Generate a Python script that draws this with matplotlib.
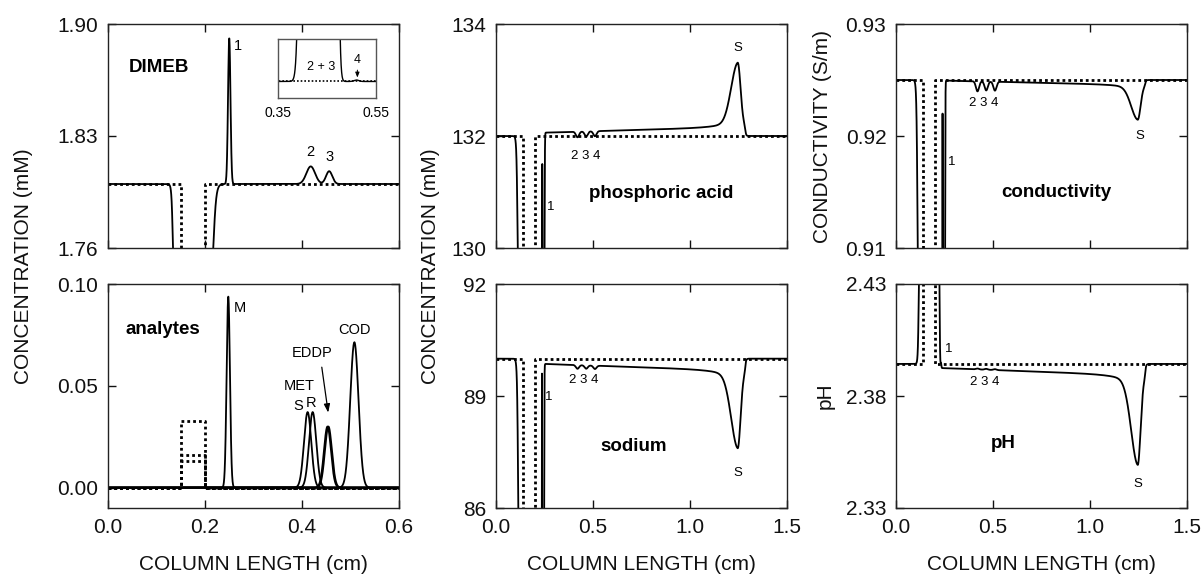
import numpy as np
import matplotlib
matplotlib.use("Agg")
import matplotlib.pyplot as plt

plt.rcParams['font.family'] = ['Liberation Sans', 'DejaVu Sans']
plt.rcParams['axes.linewidth'] = 1.0

# ---------------------------------------------------------------- data
# DIMEB (left top): baseline, sample-zone dip and complex peaks
dimeb_level = 1.80
dimeb_zone = (0.134, 0.003, 0.217, 0.006, 0.08)          # a, wa, b, wb, depth
dimeb_peak_pos = [0.250, 0.418, 0.456, 0.510]
dimeb_peak_height = [0.091, 0.011, 0.008, 0.0000015]
dimeb_peak_sigma = [0.0025, 0.009, 0.0065, 0.005]
dimeb_plug = (0.15, 0.20)
dimeb_plug_level = 0.0

# analytes (left bottom)
analyte_names = ['M', 'S-MET', 'R-MET', 'EDDP-1', 'EDDP-2', 'COD']
analyte_pos = [0.248, 0.4116, 0.422, 0.4525, 0.4545, 0.508]
analyte_height = [0.0938, 0.0371, 0.0371, 0.0300, 0.0300, 0.0714]
analyte_sigma = [0.0034, 0.0075, 0.0075, 0.0072, 0.0072, 0.0085]
analyte_initial = [0.0158, 0.0132, 0.0132, 0.0132, 0.0132, 0.0328]
analyte_plug = (0.15, 0.20)

# buffer / electrolyte profiles (middle and right)
plug_mr = (0.14, 0.20)
wiggle_pos = [0.42, 0.465, 0.51]
wiggle_sigma = 0.008
s_pos, s_sigma_left, s_sigma_right = 1.246, 0.034, 0.0146
s_tail_frac, s_tail_len = 0.12, 0.08
plateau_end = (1.285, 0.004)

phos = dict(level=132.0, zone=(0.112, 0.006, 0.2505, 0.0015, 4.0),
            spike=(0.2385, 3.5, 0.0007), plateau=(0.06, 0.10),
            wiggle=[-0.10, -0.09, -0.09], s_amp=1.15, plug_level=0.0)
sodium = dict(level=90.0, zone=(0.115, 0.006, 0.248, 0.0015, 8.0),
              spike=(0.237, 7.6, 0.0007), plateau=(-0.14, -0.18),
              wiggle=[-0.10, -0.09, -0.09], s_amp=-2.08, plug_level=0.0)
cond = dict(level=0.925, zone=(0.112, 0.006, 0.253, 0.0015, 0.03),
            spike=(0.240, 0.027, 0.0007), plateau=(-0.00005, -0.0004),
            wiggle=[-0.0009, -0.0008, -0.0008], s_amp=-0.0031, plug_level=0.0)
ph = dict(level=2.3943, zone=(0.118, 0.005, 0.224, 0.003, -0.07),
          spike=(0.232, 0.002, 0.0018), plateau=(-0.0018, -0.0032),
          wiggle=[0.0004, 0.0004, 0.0004], s_amp=-0.040, plug_level=7.0)

# ---------------------------------------------------------------- helpers
def edge(x, c, w):
    return 0.5 * (1.0 + np.tanh((x - c) / w))


def gauss(x, c, h, s):
    return h * np.exp(-0.5 * ((x - c) / s) ** 2)


def system_peak(x, c, h, sl, sr, frac, tail):
    d = x - c
    left = (1.0 - frac) * np.exp(-0.5 * (d / sl) ** 2) + frac * np.exp(np.minimum(d, 0.0) / tail)
    right = np.exp(-0.5 * (d / sr) ** 2)
    return h * np.where(d < 0, left, right)


def zone_profile(x, zone):
    a, wa, b, wb, depth = zone
    return depth * edge(x, a, wa) * (1.0 - edge(x, b, wb))


def electrolyte_profile(x, p):
    a, wa, b, wb, depth = p['zone']
    y = p['level'] - zone_profile(x, p['zone'])
    y = y + gauss(x, *p['spike'])
    p0, slope = p['plateau']
    y = y + (p0 + slope * (x - b)) * edge(x, b, wb) * (1.0 - edge(x, *plateau_end))
    for c, amp in zip(wiggle_pos, p['wiggle']):
        y = y + gauss(x, c, amp, wiggle_sigma)
    y = y + system_peak(x, s_pos, p['s_amp'], s_sigma_left, s_sigma_right,
                        s_tail_frac, s_tail_len)
    return y


def plug_line(level, sample, plug, xmax):
    xs = [0.0, plug[0], plug[0], plug[1], plug[1], xmax]
    ys = [level, level, sample, sample, level, level]
    return xs, ys


FIG_W, FIG_H = 1204, 582
fig = plt.figure(figsize=(FIG_W / 100, FIG_H / 100), dpi=100)


def px_axes(x0, y0, x1, y1):
    return fig.add_axes([x0 / FIG_W, 1 - y1 / FIG_H, (x1 - x0) / FIG_W, (y1 - y0) / FIG_H])


def style(ax, xlim, ylim, xticks, yticks, xlabels, ylabels):
    ax.set_xlim(xlim)
    ax.set_ylim(ylim)
    ax.set_xticks(xticks)
    ax.set_yticks(yticks)
    ax.set_yticklabels(ylabels)
    if xlabels is None:
        ax.tick_params(labelbottom=False)
    else:
        ax.set_xticklabels(xlabels)
    ax.tick_params(direction='in', top=True, right=True, length=6, width=1,
                   labelsize=15, pad=7, colors='#111111')
    for s in ax.spines.values():
        s.set_color('#222222')


SOLID = dict(color='black', lw=1.3, solid_joinstyle='round')
DOT = dict(color='black', lw=2.0, linestyle=(0, (1.0, 1.1)))

x_left = np.linspace(0.0, 0.6, 12001)
x_mr = np.linspace(0.0, 1.5, 30001)

top_y = (24, 248)
bot_y = (284, 508)
cols = [(108, 399), (496, 787), (896, 1187)]

# ---------------------------------------------------------------- DIMEB
ax = px_axes(cols[0][0], top_y[0], cols[0][1], top_y[1])
dimeb = dimeb_level - zone_profile(x_left, dimeb_zone)
for c, h, s in zip(dimeb_peak_pos, dimeb_peak_height, dimeb_peak_sigma):
    dimeb = dimeb + gauss(x_left, c, h, s)
ax.plot(*plug_line(dimeb_level, dimeb_plug_level, dimeb_plug, 0.6), **DOT)
ax.plot(x_left, dimeb, **SOLID)
style(ax, (0, 0.6), (1.76, 1.90), [0, 0.2, 0.4, 0.6], [1.76, 1.83, 1.90],
      None, ['1.76', '1.83', '1.90'])
ax.text(0.105, 1.873, 'DIMEB', fontsize=13.5, fontweight='bold', ha='center', va='center')
ax.text(0.268, 1.886, '1', fontsize=10.5, ha='center', va='center')
ax.text(0.4165, 1.820, '2', fontsize=10.5, ha='center', va='center')
ax.text(0.456, 1.817, '3', fontsize=10.5, ha='center', va='center')

# inset zoom on complexes 2-4
span = 6e-5
axi = px_axes(278, 39, 376, 98)
axi.plot(*plug_line(dimeb_level, dimeb_plug_level, dimeb_plug, 0.6), color='black',
         lw=1.2, linestyle=(0, (1.0, 1.2)))
axi.plot(x_left, dimeb, color='black', lw=1.0)
axi.set_xlim(0.35, 0.55)
axi.set_ylim(dimeb_level - 0.28 * span, dimeb_level + 0.72 * span)
axi.set_yticks([])
axi.set_xticks([0.35, 0.55])
axi.set_xticklabels(['0.35', '0.55'])
axi.tick_params(length=0, labelsize=10, pad=6)
for s in axi.spines.values():
    s.set_color('#555555')
    s.set_linewidth(1.0)
axi.text(0.437, dimeb_level + 0.25 * span, '2 + 3', fontsize=9, ha='center', va='center')
axi.text(0.512, dimeb_level + 0.36 * span, '4', fontsize=9, ha='center', va='center')
axi.annotate('', xy=(0.512, dimeb_level + 0.02 * span),
             xytext=(0.512, dimeb_level + 0.24 * span),
             arrowprops=dict(arrowstyle='-|>,head_length=0.3,head_width=0.12',
                             color='black', lw=0.7))

# ---------------------------------------------------------------- analytes
ax = px_axes(cols[0][0], bot_y[0], cols[0][1], bot_y[1])
for h0 in sorted(set(analyte_initial)):
    ax.plot(*plug_line(0.0, h0, analyte_plug, 0.6), **DOT)
for c, h, s in zip(analyte_pos, analyte_height, analyte_sigma):
    ax.plot(x_left, gauss(x_left, c, h, s), **SOLID)
style(ax, (0, 0.6), (-0.01, 0.10), [0, 0.2, 0.4, 0.6], [0.0, 0.05, 0.10],
      ['0.0', '0.2', '0.4', '0.6'], ['0.00', '0.05', '0.10'])
ax.text(0.114, 0.0775, 'analytes', fontsize=13.5, fontweight='bold', ha='center', va='center')
ax.text(0.272, 0.088, 'M', fontsize=10.5, ha='center', va='center')
ax.text(0.5075, 0.0775, 'COD', fontsize=10.5, ha='center', va='center')
ax.text(0.4206, 0.066, 'EDDP', fontsize=10.5, ha='center', va='center')
ax.text(0.3945, 0.0497, 'MET', fontsize=10.5, ha='center', va='center')
ax.text(0.392, 0.0399, 'S', fontsize=10.5, ha='center', va='center')
ax.text(0.419, 0.0415, 'R', fontsize=10.5, ha='center', va='center')
ax.annotate('', xy=(0.4548, 0.0355), xytext=(0.440, 0.0605),
            arrowprops=dict(arrowstyle='-|>,head_length=0.5,head_width=0.18',
                            color='black', lw=0.9))

# ---------------------------------------------------------------- middle / right
xt = [0, 0.5, 1.0, 1.5]
xtl = ['0.0', '0.5', '1.0', '1.5']
panels = [
    (phos, cols[1], top_y, (130, 134), [130, 132, 134], ['130', '132', '134'], None),
    (sodium, cols[1], bot_y, (86, 92), [86, 89, 92], ['86', '89', '92'], xtl),
    (cond, cols[2], top_y, (0.91, 0.93), [0.91, 0.92, 0.93], ['0.91', '0.92', '0.93'], None),
    (ph, cols[2], bot_y, (2.33, 2.43), [2.33, 2.38, 2.43], ['2.33', '2.38', '2.43'], xtl),
]
axes_mr = []
for p, (cx0, cx1), (cy0, cy1), ylim, yt, ytl, xl in panels:
    ax = px_axes(cx0, cy0, cx1, cy1)
    ax.plot(*plug_line(p['level'], p['plug_level'], plug_mr, 1.5), **DOT)
    ax.plot(x_mr, electrolyte_profile(x_mr, p), **SOLID)
    style(ax, (0, 1.5), ylim, xt, yt, xl, ytl)
    axes_mr.append(ax)

ax_p, ax_na, ax_c, ax_ph = axes_mr
small = dict(fontsize=9.5, ha='center', va='center')
bold = dict(fontsize=13.5, fontweight='bold', ha='center', va='center')

ax_p.text(0.854, 130.98, 'phosphoric acid', **bold)
ax_p.text(1.246, 133.57, 'S', **small)
ax_p.text(0.46, 131.64, '2 3 4', **small)
ax_p.text(0.282, 130.74, '1', **small)

ax_na.text(0.708, 87.64, 'sodium', **bold)
ax_na.text(1.246, 86.93, 'S', **small)
ax_na.text(0.454, 89.43, '2 3 4', **small)
ax_na.text(0.27, 88.98, '1', **small)

ax_c.text(0.828, 0.91494, 'conductivity', **bold)
ax_c.text(1.255, 0.9200, 'S', **small)
ax_c.text(0.454, 0.92292, '2 3 4', **small)
ax_c.text(0.287, 0.91771, '1', **small)

ax_ph.text(0.553, 2.3589, 'pH', **bold)
ax_ph.text(1.246, 2.3407, 'S', **small)
ax_ph.text(0.459, 2.3864, '2 3 4', **small)
ax_ph.text(0.27, 2.4009, '1', **small)

# ---------------------------------------------------------------- axis titles
lab = dict(fontsize=15, ha='center', va='center', color='#111111')
fig.text(24 / FIG_W, 1 - 266 / FIG_H, 'CONCENTRATION (mM)', rotation=90, **lab)
fig.text(430 / FIG_W, 1 - 266 / FIG_H, 'CONCENTRATION (mM)', rotation=90, **lab)
fig.text(822 / FIG_W, 1 - 136 / FIG_H, 'CONDUCTIVITY (S/m)', rotation=90, **lab)
fig.text(825 / FIG_W, 1 - 396 / FIG_H, 'pH', rotation=90, **lab)
for cx0, cx1 in cols:
    fig.text((cx0 + cx1) / 2 / FIG_W, 1 - 565 / FIG_H, 'COLUMN LENGTH (cm)', **lab)

fig.savefig('out.png', dpi=100)
